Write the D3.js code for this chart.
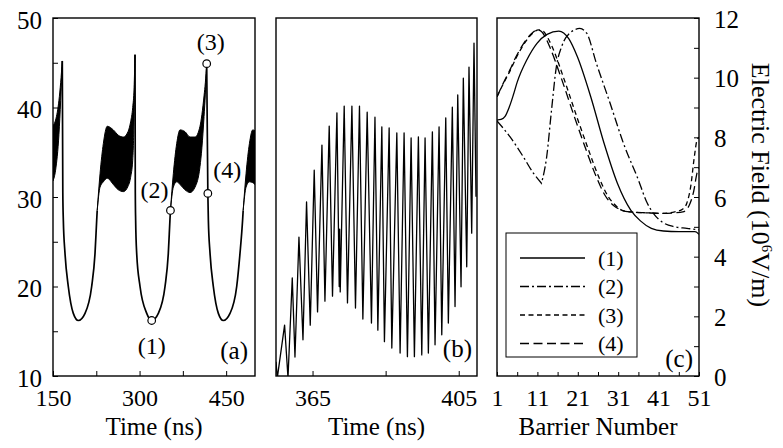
<!DOCTYPE html>
<html><head><meta charset="utf-8">
<script src="https://cdn.jsdelivr.net/npm/d3@7"></script>
<style>
body{margin:0;background:#fff}
svg{display:block}
text{font-family:"Liberation Serif","Times New Roman",serif;fill:#000}
</style></head><body>
<svg id="chart" width="783" height="448"></svg>
<script>
// ---------------- DATA ----------------
// Panel (a): time (ns) vs current; dense oscillation bands given as envelopes
const aBandTime = [
  [150, 154.5, 160.3, 163.3, 166.1],
  [226.6, 231.5, 237.3, 244.0, 254.5, 263.2, 272.0, 280.0, 284.5, 288.1, 290.5, 292.1],
  [353.5, 358.5, 364.4, 370.1, 378.7, 387.4, 396.1, 404.7, 408.0, 411.7, 414.0, 416.3],
  [479.5, 484.5, 490.4, 496.1, 500]
];
const aBandTop = [
  [38.0, 38.6, 40.8, 42.8, 45.2],
  [28.5, 32.6, 36.0, 37.9, 37.5, 36.9, 36.7, 37.3, 38.4, 40.0, 42.2, 45.9],
  [28.5, 32.6, 36.0, 37.5, 37.3, 36.7, 36.7, 37.9, 39.2, 41.3, 42.8, 44.9],
  [28.5, 32.6, 36.0, 37.5, 37.4]
];
const aBandBottom = [
  [31.8, 33.0, 37.0, 40.8, 45.2],
  [28.5, 31.1, 31.7, 32.1, 31.4, 30.8, 30.6, 31.2, 32.2, 34.1, 38.8, 45.9],
  [28.5, 31.1, 31.7, 31.4, 30.8, 30.5, 31.1, 33.4, 35.5, 39.0, 41.5, 44.9],
  [28.5, 31.1, 31.7, 31.6, 31.4]
];
// smooth parts (drop after spike, valley, rise to next band)
const aValleyTime = [
  [166.1, 167.0, 167.9, 170.8, 176.5, 185.2, 193.9, 205.5, 217.0, 222.8, 225.7, 226.6],
  [292.1, 292.6, 293.2, 295.0, 300.8, 312.4, 321.0, 332.5, 344.1, 349.8, 352.6, 353.5],
  [416.3, 418.3, 419.2, 422.1, 427.8, 436.5, 445.1, 456.7, 468.3, 474.0, 478.5, 479.5]
];
const aValleyValue = [
  [45.2, 30.5, 27.4, 23.7, 20.0, 17.0, 16.2, 17.0, 20.0, 23.7, 27.4, 28.5],
  [45.9, 30.5, 27.4, 23.7, 20.0, 17.0, 16.2, 17.0, 20.0, 23.7, 27.4, 28.5],
  [44.9, 30.4, 27.4, 23.7, 20.0, 17.0, 16.2, 17.0, 20.0, 23.7, 27.4, 28.5]
];
const aMarkTime  = [321.0, 353.5, 416.3, 418.3];
const aMarkValue = [16.2, 28.5, 44.9, 30.4];
const aMarkLabel = ["(1)", "(2)", "(3)", "(4)"];
const aXTicks = [150, 225, 300, 375, 450];
const aXLabels = [150, 300, 450];
const aYTicks = [10, 15, 20, 25, 30, 35, 40, 45, 50];
const aYLabels = [10, 20, 30, 40, 50];

// Panel (b): zoom of the oscillation
const bTime = [355.0, 355.36, 357.35, 358.28, 359.45, 360.19, 361.28, 362.38, 363.36, 364.37,
  365.46, 366.37, 367.57, 368.39, 369.56, 370.46, 371.67, 372.3, 372.42, 372.57,
  373.66, 374.56, 375.77, 376.75, 377.84, 378.77, 379.95, 381.12, 382.08, 382.87,
  383.96, 384.67, 385.96, 386.69, 388.06, 388.96, 390.05, 390.96, 391.97, 392.87,
  393.96, 394.89, 395.79, 396.69, 397.79, 398.52, 399.62, 400.36, 401.45, 402.16,
  403.25, 403.99, 404.73, 405.63, 406.26, 407.19, 407.81, 408.55, 409.18, 409.73];
const bValue = [30.4, 29.95, 31.42, 29.95, 32.74, 30.53, 33.88, 31.01, 34.86, 31.42,
  35.75, 31.79, 36.45, 32.09, 36.98, 32.23, 37.35, 32.5, 34.1, 32.35,
  37.54, 32.04, 37.54, 31.90, 37.54, 31.59, 37.37, 31.48, 37.23, 31.28,
  36.96, 30.96, 36.93, 30.78, 36.79, 30.64, 36.79, 30.54, 36.65, 30.54,
  36.68, 30.59, 36.65, 30.64, 36.82, 30.87, 36.96, 31.15, 37.21, 31.48,
  37.51, 31.94, 37.85, 32.49, 38.32, 33.05, 38.63, 33.99, 39.30, 35.01];
const bXTicks = [365, 385, 405];
const bXLabels = [365, 405];

// Panel (c): electric field (10^6 V/m) vs barrier number
const c1Barrier = [1, 2, 3, 4, 5, 6, 8.4, 10.9, 13.4, 16.3, 17.5, 18.8, 20.9, 24.2, 27.5, 30.8, 34.1, 36.5, 39.2, 42.2, 46, 50, 51];
const c1Field   = [8.58, 8.6, 8.7, 9.0, 9.4, 9.85, 10.6, 11.15, 11.45, 11.56, 11.5, 11.3, 10.7, 9.36, 7.8, 6.46, 5.56, 5.2, 4.95, 4.86, 4.84, 4.84, 4.75];
const c2Barrier = [1, 4.2, 7.5, 10, 12, 13.3, 14.5, 15.7, 17, 19, 21.5, 23.2, 25.6, 29, 32.3, 36, 38, 40, 42, 45, 48, 51];
const c2Field   = [8.55, 8.02, 7.35, 6.8, 6.46, 7.35, 8.92, 10.37, 11.04, 11.49, 11.65, 11.49, 10.48, 9.14, 7.8, 6.57, 5.85, 5.4, 5.15, 5.0, 4.95, 4.9];
const c3Barrier = [1, 2.5, 4.2, 5.7, 7.1, 9.2, 11.3, 12.5, 13.5, 14.6, 17.6, 20.6, 23.6, 26.1, 28.6, 30.5, 32, 34, 38, 42, 45, 47, 48, 49, 49.8, 50.5, 51];
const c3Field   = [9.36, 9.78, 10.22, 10.65, 11.0, 11.4, 11.6, 11.55, 11.35, 11.05, 9.95, 8.75, 7.6, 6.7, 6.0, 5.7, 5.55, 5.5, 5.47, 5.45, 5.5, 5.6, 5.8, 6.4, 7.3, 7.9, 8.0];
const c4Barrier = [1, 2.5, 4.2, 5.7, 7.1, 9.2, 11, 12, 13, 14, 17, 20, 23, 25.5, 28, 30, 32, 34, 38, 42, 45, 47, 48.5, 49.7, 50.5, 51];
const c4Field   = [9.36, 9.8, 10.26, 10.7, 11.04, 11.43, 11.6, 11.55, 11.35, 11.05, 9.95, 8.75, 7.6, 6.7, 6.0, 5.7, 5.55, 5.5, 5.47, 5.45, 5.47, 5.5, 5.7, 6.2, 6.8, 7.0];
const cCusp2 = 4; // index of the sharp minimum of curve (2)
const cSeriesLabel = ["(1)", "(2)", "(3)", "(4)"];
const cXTicks = [1, 6, 11, 16, 21, 26, 31, 36, 41, 46, 51];
const cXLabels = [1, 11, 21, 31, 41, 51];
const cYTicks = d3.range(0, 13);
const cYLabels = [0, 2, 4, 6, 8, 10, 12];

// ---------------- DRAW ----------------
const svg = d3.select("#chart");
const TOP = 18, BOT = 376;
const FONTF = "Liberation Serif, Times New Roman, serif";
const TICKFS = 24, TITLEFS = 25, TITLEY = 435;

const xA = d3.scaleLinear([150, 500], [53, 255]);
const yA = d3.scaleLinear([10, 50], [BOT, TOP]);
const xB = d3.scaleLinear([355, 410], [276, 477]);
const yB = d3.scaleLinear([30, 40], [BOT, TOP]);
const xC = d3.scaleLinear([1, 51], [497, 699]);
const yC = d3.scaleLinear([0, 12], [BOT, TOP]);

function clip(id, x0, x1) {
  svg.append("clipPath").attr("id", id).append("rect")
    .attr("x", x0).attr("y", TOP).attr("width", x1 - x0).attr("height", BOT - TOP);
}
clip("clipA", 53, 255); clip("clipB", 276, 477); clip("clipC", 497, 699);

function styleAxis(g, fs) {
  g.attr("font-size", fs).attr("font-family", FONTF);
  g.select(".domain").remove();
  g.selectAll(".tick line").attr("stroke", "#000").attr("stroke-width", 1);
  g.selectAll(".tick text").attr("fill", "#000");
}
function bottomAxis(x, ticks, labels, len) {
  const g = svg.append("g").attr("transform", `translate(0,${BOT})`)
    .call(d3.axisBottom(x).tickValues(ticks).tickFormat(d => labels.includes(d) ? d : "")
      .tickSizeInner(-len).tickSizeOuter(0).tickPadding(13));
  styleAxis(g, TICKFS);
}

// ---- Panel (a)
const gA = svg.append("g").attr("clip-path", "url(#clipA)");
aBandTime.forEach((ts, i) => {
  const pts = ts.map((t, j) => ({ t, hi: aBandTop[i][j], lo: aBandBottom[i][j] }));
  gA.append("path").datum(pts)
    .attr("d", d3.area().x(d => xA(d.t)).y0(d => yA(d.lo)).y1(d => yA(d.hi)).curve(d3.curveMonotoneX))
    .attr("fill", "#000").attr("stroke", "#000").attr("stroke-width", 1);
});
aValleyTime.forEach((ts, i) => {
  const pts = ts.map((t, j) => [t, aValleyValue[i][j]]);
  gA.append("path").datum(pts)
    .attr("d", d3.line().x(d => xA(d[0])).y(d => yA(d[1])).curve(d3.curveMonotoneX))
    .attr("fill", "none").attr("stroke", "#000").attr("stroke-width", 1.7);
});
// point labels (offsets are layout only)
const labelPos = [
  { dx: 0, dy: 33, anchor: "middle" },
  { dx: -2, dy: -12.5, anchor: "end" },
  { dx: 4, dy: -14, anchor: "middle" },
  { dx: 5.5, dy: -15, anchor: "start" }
];
aMarkTime.forEach((t, i) => {
  svg.append("circle").attr("cx", xA(t)).attr("cy", yA(aMarkValue[i])).attr("r", 3.8)
    .attr("fill", "#fff").attr("stroke", "#000").attr("stroke-width", 1.2);
  svg.append("text").attr("x", xA(t) + labelPos[i].dx).attr("y", yA(aMarkValue[i]) + labelPos[i].dy)
    .attr("text-anchor", labelPos[i].anchor).attr("font-size", 24).text(aMarkLabel[i]);
});
bottomAxis(xA, aXTicks, aXLabels, 5);
{
  const g = svg.append("g").attr("transform", "translate(53,0)")
    .call(d3.axisLeft(yA).tickValues(aYTicks).tickFormat(d => aYLabels.includes(d) ? d : "")
      .tickSizeInner(-5).tickSizeOuter(0).tickPadding(11));
  styleAxis(g, 25);
  g.selectAll(".tick text").attr("dy", "0.4em");
}
svg.append("text").attr("x", 248).attr("y", 359).attr("text-anchor", "end").attr("font-size", 25).text("(a)");
svg.append("text").attr("x", 154).attr("y", TITLEY).attr("text-anchor", "middle").attr("font-size", TITLEFS).text("Time (ns)");

// ---- Panel (b)
const gB = svg.append("g").attr("clip-path", "url(#clipB)");
gB.append("path").datum(bTime.map((t, i) => [t, bValue[i]]))
  .attr("d", d3.line().x(d => xB(d[0])).y(d => yB(d[1])))
  .attr("fill", "none").attr("stroke", "#000").attr("stroke-width", 1.3).attr("stroke-linejoin", "round");
bottomAxis(xB, bXTicks, bXLabels, 5);
svg.append("text").attr("x", 472).attr("y", 357).attr("text-anchor", "end").attr("font-size", 25).text("(b)");
svg.append("text").attr("x", 376.5).attr("y", TITLEY).attr("text-anchor", "middle").attr("font-size", TITLEFS).text("Time (ns)");

// ---- Panel (c)
const gC = svg.append("g").attr("clip-path", "url(#clipC)");
const lineC = d3.line().x(d => xC(d[0])).y(d => yC(d[1])).curve(d3.curveMonotoneX);
const dashes = [null, "9,3,2,3", "5,3.5", "9,4.5"];
function pairs(bs, vs) { return bs.map((b, i) => [b, vs[i]]); }
const c2pts = pairs(c2Barrier, c2Field);
const cPaths = [
  lineC(pairs(c1Barrier, c1Field)),
  lineC(c2pts.slice(0, cCusp2 + 1)) + lineC(c2pts.slice(cCusp2)).replace(/^M/, "L"),
  lineC(pairs(c3Barrier, c3Field)),
  lineC(pairs(c4Barrier, c4Field))
];
cPaths.forEach((d, i) => {
  gC.append("path").attr("d", d).attr("fill", "none").attr("stroke", "#000")
    .attr("stroke-width", 1.3).attr("stroke-dasharray", dashes[i]);
});
// legend
svg.append("rect").attr("x", 506).attr("y", 233).attr("width", 131).attr("height", 124)
  .attr("fill", "#fff").attr("stroke", "#000").attr("stroke-width", 1);
cSeriesLabel.forEach((lab, i) => {
  const y = 258 + i * 28.5;
  svg.append("line").attr("x1", 520).attr("x2", 585).attr("y1", y).attr("y2", y)
    .attr("stroke", "#000").attr("stroke-width", 1.3).attr("stroke-dasharray", dashes[i]);
  svg.append("text").attr("x", 598).attr("y", y + 7.5).attr("font-size", 22).text(lab);
});
{
  const g = svg.append("g").attr("transform", `translate(0,${BOT})`)
    .call(d3.axisBottom(xC).tickValues(cXTicks).tickFormat(d => cXLabels.includes(d) ? d : "")
      .tickSizeInner(-4).tickSizeOuter(0).tickPadding(13));
  styleAxis(g, TICKFS);
}
{
  const g = svg.append("g").attr("transform", "translate(699,0)")
    .call(d3.axisRight(yC).tickValues(cYTicks).tickFormat(d => cYLabels.includes(d) ? d : "")
      .tickSizeInner(-5).tickSizeOuter(0).tickPadding(15));
  styleAxis(g, 25);
  g.selectAll(".tick text").attr("dy", "0.36em");
}
svg.append("text").attr("x", 693).attr("y", 367).attr("text-anchor", "end").attr("font-size", 25).text("(c)");
svg.append("text").attr("x", 598).attr("y", TITLEY).attr("text-anchor", "middle").attr("font-size", TITLEFS).text("Barrier Number");
{
  const t = svg.append("text").attr("transform", "translate(752,185) rotate(90)")
    .attr("text-anchor", "middle").attr("font-size", 26);
  t.append("tspan").text("Electric Field (10");
  t.append("tspan").attr("font-size", 15).attr("dy", -10).text("6");
  t.append("tspan").attr("dy", 10).text("V/m)");
}

// frames
[[53, 255], [276, 477], [497, 699]].forEach(([x0, x1]) => {
  svg.append("rect").attr("x", x0).attr("y", TOP).attr("width", x1 - x0).attr("height", BOT - TOP)
    .attr("fill", "none").attr("stroke", "#000").attr("stroke-width", 1.4);
});
</script>
</body></html>
